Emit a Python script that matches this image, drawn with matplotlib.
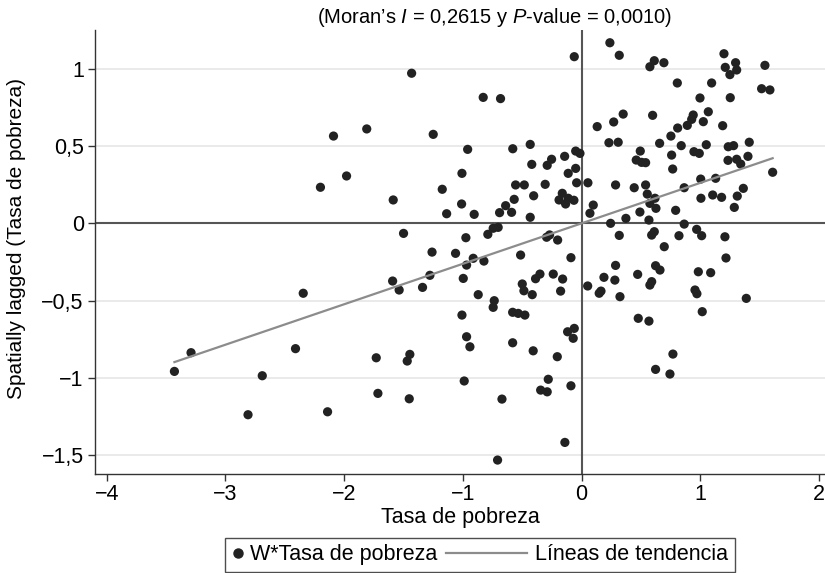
import numpy as np
import matplotlib
matplotlib.use("Agg")
import matplotlib.pyplot as plt
from matplotlib.lines import Line2D
from matplotlib.legend_handler import HandlerBase

# values (standardised poverty rate vs. its spatial lag)
tasa = [
    -2.09, -2.20, -2.345, -3.29, -3.43, -2.41, -2.69, -2.81, -2.14,
    -0.062, -1.432, -0.829, -0.683, -1.81, -1.25, -0.96, -0.58, -0.433, -1.98,
    -1.008, -0.42, -0.29, -0.253, -0.143, -0.05, -0.014, -0.113, -0.05, -0.042,
    -0.556, -0.483, -0.307, -1.174, -1.587, -0.568, -0.404, -0.163, -0.19, -0.135,
    -0.113, -0.065, -1.011, -1.137, -0.905, -0.64, -0.691, -0.59, -0.433, -1.5,
    -0.975, -0.79, -0.745, -0.703, -0.295, -0.27, -0.202, -1.26, -1.062,
    -0.913, -0.969, -0.823, -0.514, -0.09, -1.278, -1.592, -1.537, -1.34, -0.997,
    -0.871, -0.736, -0.745, -0.5, -0.486, -0.416, -0.388, -0.351, -0.239, -0.16,
    -0.177, -0.581, -0.534, -0.478, -1.008, -0.969, -0.941, -0.581, -0.408, -0.205,
    -0.118, -0.062, -0.071, -1.73, -1.469, -1.447, -0.989, -1.716, -1.452, -0.345,
    -0.29, -0.281, -0.09, -0.671, -0.141, -0.708,
    0.238, 0.317, 0.575, 0.612, 0.693, 1.199, 1.21, 1.249, 1.297, 1.306, 1.544,
    1.516, 1.586, 0.806, 1.095, 0.997, 1.252, 1.067, 1.025, 0.94, 0.927, 0.89,
    0.809, 0.752, 1.188, 0.35, 0.27, 0.598, 0.131, 0.23, 0.308, 0.657, 0.839,
    1.05, 0.946, 0.991, 1.235, 1.28, 1.412, 0.494, 0.758, 0.46, 0.505, 0.539,
    0.767, 1.233, 1.306, 1.34, 1.401, 1.609, 0.053, 0.286, 0.443, 0.539, 0.553,
    0.618, 0.575, 0.626, 0.491, 0.567, 0.792, 0.864, 1.003, 1.129, 1.005, 1.104,
    1.179, 1.362, 1.311, 1.286, 0.098, 0.07, 0.373, 0.244, 0.864, 0.317, 0.59,
    0.612, 0.82, 0.969, 1.011, 1.207, 0.696,
    1.216, 0.286, 0.188, 0.28, 0.051, 0.148, 0.163, 0.323, 0.472, 0.623, 0.66,
    0.575, 0.59, 0.983, 1.087, 0.955, 0.971, 1.387, 1.016, 0.477, 0.567, 0.769,
    0.623, 0.744,
]
w_tasa = [
    0.564, 0.233, -0.452, -0.836, -0.957, -0.81, -0.985, -1.237, -1.218,
    1.077, 0.970, 0.814, 0.806, 0.61, 0.575, 0.478, 0.482, 0.51, 0.306,
    0.323, 0.381, 0.375, 0.414, 0.433, 0.467, 0.452, 0.323, 0.355, 0.262,
    0.248, 0.248, 0.252, 0.22, 0.151, 0.155, 0.178, 0.194, 0.151, 0.125,
    0.162, 0.149, 0.125, 0.062, 0.058, 0.114, 0.069, 0.071, 0.039, -0.065,
    -0.093, -0.071, -0.032, -0.026, -0.09, -0.075, -0.108, -0.186, -0.194,
    -0.226, -0.27, -0.244, -0.205, -0.222, -0.336, -0.373, -0.431, -0.414, -0.356,
    -0.461, -0.5, -0.543, -0.392, -0.436, -0.461, -0.358, -0.328, -0.328, -0.36,
    -0.438, -0.575, -0.582, -0.593, -0.593, -0.733, -0.798, -0.772, -0.824, -0.862,
    -0.701, -0.679, -0.743, -0.869, -0.89, -0.847, -1.019, -1.099, -1.134, -1.078,
    -1.089, -1.008, -1.05, -1.136, -1.416, -1.53,
    1.167, 1.086, 1.012, 1.051, 1.038, 1.096, 1.008, 0.961, 1.038, 0.991, 1.021,
    0.87, 0.862, 0.907, 0.907, 0.81, 0.812, 0.721, 0.657, 0.7, 0.672, 0.633,
    0.616, 0.564, 0.631, 0.706, 0.655, 0.698, 0.625, 0.521, 0.524, 0.517, 0.502,
    0.508, 0.463, 0.452, 0.495, 0.502, 0.524, 0.467, 0.441, 0.409, 0.394, 0.392,
    0.351, 0.407, 0.414, 0.383, 0.433, 0.33, 0.262, 0.248, 0.23, 0.248, 0.189,
    0.162, 0.129, 0.097, 0.073, 0.021, 0.084, 0.23, 0.286, 0.291, 0.162, 0.183,
    0.168, 0.226, 0.176, 0.103, 0.118, 0.065, 0.032, 0.0, -0.005, -0.078, -0.076,
    -0.054, -0.08, -0.039, -0.08, -0.087, -0.151,
    -0.224, -0.272, -0.349, -0.367, -0.405, -0.452, -0.438, -0.474, -0.33, -0.274, -0.302,
    -0.399, -0.377, -0.313, -0.319, -0.431, -0.455, -0.485, -0.571, -0.614, -0.632, -0.845,
    -0.944, -0.974,
]

moran_i = 0.2615
p_value = 0.0010

xticks = [-4, -3, -2, -1, 0, 1, 2]
xtick_labels = ["\u22124", "\u22123", "\u22122", "\u22121", "0", "1", "2"]
yticks = [1, 0.5, 0, -0.5, -1, -1.5]
ytick_labels = ["1", "0,5", "0", "\u22120,5", "\u22121", "\u22121,5"]

FS = 15.5


class LongLineHandler(HandlerBase):
    """draws the trend line handle reaching back into the column gap, like Stata does"""
    def create_artists(self, legend, orig_handle, xdescent, ydescent,
                       width, height, fontsize, trans):
        y0 = height / 2.0 - ydescent
        x0 = -xdescent - 3.3 * fontsize
        x1 = -xdescent + width - 0.15 * fontsize
        ln = Line2D([x0, x1], [y0, y0], color=orig_handle.get_color(),
                    lw=orig_handle.get_linewidth())
        ln.set_transform(trans)
        return [ln]


def main():
    plt.rcParams['font.family'] = ['Liberation Sans', 'DejaVu Sans']
    plt.rcParams['mathtext.fontset'] = 'custom'
    plt.rcParams['mathtext.it'] = 'Liberation Sans:italic'
    plt.rcParams['mathtext.rm'] = 'Liberation Sans'

    fig = plt.figure(figsize=(8.25, 5.73), dpi=100)
    ax = fig.add_axes([0.115, 0.1728, 0.885, 0.775])

    x = np.array(tasa)
    y = np.array(w_tasa)

    ax.set_xlim(-4.10, 2.05)
    ax.set_ylim(-1.62, 1.25)

    for yt in yticks:
        if yt != 0:
            ax.axhline(yt, color='#e6e6e6', lw=1.2, zorder=0)
    ax.axhline(0, color='#555555', lw=1.5, zorder=1)
    ax.axvline(0, color='#555555', lw=1.5, zorder=1)

    ax.scatter(x, y, s=44, color='#222222', edgecolors='none', zorder=3)

    # trend line: slope equals Moran's I
    xl = np.array([x.min(), x.max()])
    ax.plot(xl, moran_i * xl, color='#8c8c8c', lw=1.6, zorder=4)

    ax.set_xticks(xticks)
    ax.set_xticklabels(xtick_labels)
    ax.set_yticks(yticks)
    ax.set_yticklabels(ytick_labels)
    ax.tick_params(axis='both', labelsize=FS, length=5, width=1, color='#333333')
    ax.tick_params(axis='y', pad=3)
    ax.tick_params(axis='x', pad=2)
    for s in ['top', 'right']:
        ax.spines[s].set_visible(False)
    for s in ['left', 'bottom']:
        ax.spines[s].set_color('#333333')
        ax.spines[s].set_linewidth(1)

    ax.set_xlabel("Tasa de pobreza", fontsize=FS, labelpad=2)
    ax.set_ylabel("Spatially lagged (Tasa de pobreza)", fontsize=15)
    ax.yaxis.set_label_coords(-0.095, 0.53)

    fig.text(0.599, 0.970,
             "(Moran\u2019s $I$ = 0,2615 y $P$-value = 0,0010)",
             ha='center', va='center', fontsize=14.5)

    dot = Line2D([], [], marker='o', ls='none', color='#222222', markersize=6.5)
    trend = Line2D([], [], color='#8c8c8c', lw=1.6)
    leg = fig.legend([dot, trend], ["W*Tasa de pobreza", "L\u00edneas de tendencia"],
                     loc='center', bbox_to_anchor=(0.582, 0.032), ncol=2,
                     fontsize=FS, frameon=True, fancybox=False,
                     handlelength=0.6, handletextpad=0.25, columnspacing=3.7,
                     borderpad=0.3, handler_map={trend: LongLineHandler()})
    leg.get_frame().set_edgecolor('#222222')
    leg.get_frame().set_linewidth(1)

    fig.savefig("out.png", dpi=100)


if __name__ == '__main__':
    main()
